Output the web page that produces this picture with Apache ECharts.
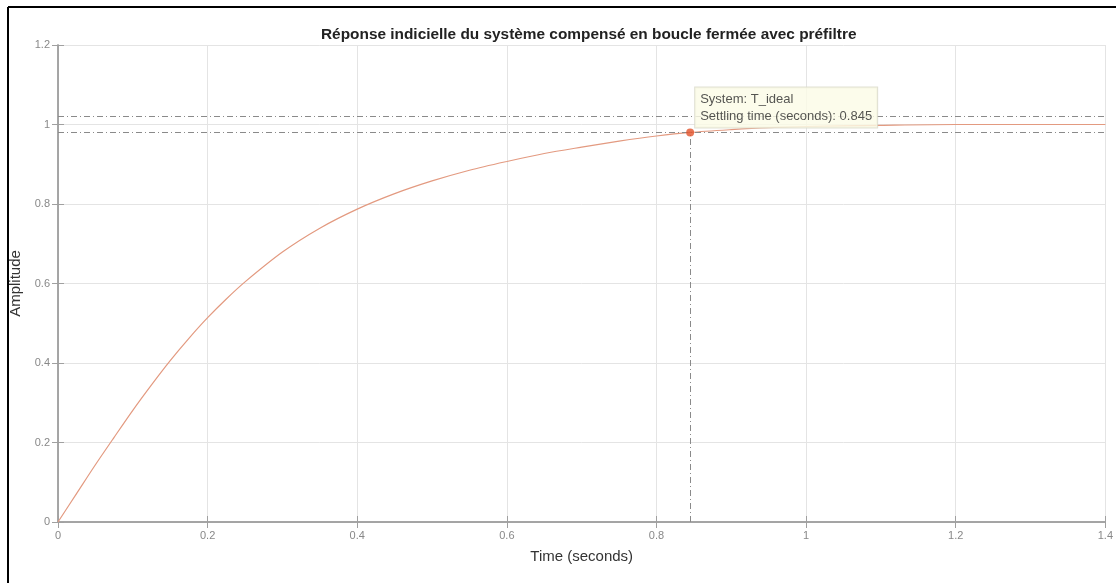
<!DOCTYPE html>
<html>
<head>
<meta charset="utf-8">
<script src="https://cdn.jsdelivr.net/npm/echarts@6/dist/echarts.min.js"></script>
<style>
html,body{margin:0;padding:0;background:#fff;}
#chart{width:1116px;height:583px;}
</style>
</head>
<body>
<div id="chart"></div>
<script>
// ---- data ----
const timeValues = [0,0.025,0.05,0.075,0.1,0.125,0.15,0.175,0.2,0.225,0.25,0.3,0.35,0.4,0.45,0.5,0.55,0.6,0.65,0.7,0.75,0.8,0.845,0.9,0.95,1.0,1.1,1.2,1.3,1.4];
const amplitudeValues = [0,0.072,0.144,0.213,0.281,0.345,0.406,0.462,0.514,0.561,0.604,0.679,0.739,0.787,0.826,0.858,0.885,0.907,0.927,0.943,0.958,0.971,0.98,0.987,0.992,0.995,0.998,1.0,1.0,1.0];
const settlingTime = 0.845;
const settlingValue = 0.98;
const settlingBand = [0.98, 1.02];
const xTicks = ['0','0.2','0.4','0.6','0.8','1','1.2','1.4'];
const yTicks = ['0','0.2','0.4','0.6','0.8','1','1.2'];
const titleText = 'Réponse indicielle du système compensé en boucle fermée avec préfiltre';
const tipLines = ['System: T_ideal', 'Settling time (seconds): 0.845'];

const chart = echarts.init(document.getElementById('chart'));
const curve = timeValues.map((t, i) => [t, amplitudeValues[i]]);
const labelFont = 'Liberation Sans, Arial, sans-serif';
const dashDot = [6, 3, 1, 3];

function axisLine() { return { show: true, lineStyle: { color: '#a0a0a0', width: 1.5 } }; }
function tick() { return { show: true, inside: true, length: 6, lineStyle: { color: '#a0a0a0' } }; }

chart.setOption({
  animation: false,
  backgroundColor: '#fff',
  title: {
    text: titleText,
    left: 316,
    top: 22,
    textStyle: { fontFamily: labelFont, fontSize: 15.4, fontWeight: 'bold', color: '#222' }
  },
  grid: { left: 58, right: 8, top: 45, bottom: 61 },
  xAxis: [
    {
      type: 'value', min: 0, max: 1.4, interval: 0.2, position: 'bottom',
      axisLine: axisLine(), axisTick: tick(),
      name: 'Time (seconds)', nameLocation: 'middle', nameGap: 27,
      nameTextStyle: { fontFamily: labelFont, fontSize: 15, color: '#333' },
      axisLabel: { fontFamily: labelFont, fontSize: 11, color: '#888', margin: 8,
        formatter: v => xTicks[Math.round(v / 0.2)] ?? '' },
      splitLine: { show: true, lineStyle: { color: '#e4e4e4', width: 1 } }
    },
    {
      type: 'value', min: 0, max: 1.4, interval: 0.2, position: 'top',
      axisLine: axisLine(), axisTick: tick(),
      axisLabel: { show: false }, splitLine: { show: false }
    }
  ],
  yAxis: [
    {
      type: 'value', min: 0, max: 1.2, interval: 0.2, position: 'left',
      axisLine: axisLine(), axisTick: tick(),
      name: 'Amplitude', nameLocation: 'middle', nameGap: 32, nameRotate: 90,
      nameTextStyle: { fontFamily: labelFont, fontSize: 15, color: '#333' },
      axisLabel: { fontFamily: labelFont, fontSize: 11, color: '#888', margin: 8,
        formatter: v => yTicks[Math.round(v / 0.2)] ?? '' },
      splitLine: { show: true, lineStyle: { color: '#e4e4e4', width: 1 } }
    },
    {
      type: 'value', min: 0, max: 1.2, interval: 0.2, position: 'right',
      axisLine: axisLine(), axisTick: tick(),
      axisLabel: { show: false }, splitLine: { show: false }
    }
  ],
  graphic: [
    { type: 'line', shape: { x1: 8, y1: 7, x2: 1116, y2: 7 }, style: { stroke: '#000', lineWidth: 2 } },
    { type: 'line', shape: { x1: 8, y1: 7, x2: 8, y2: 583 }, style: { stroke: '#000', lineWidth: 2 } }
  ],
  series: [
    {
      type: 'line',
      data: curve,
      smooth: 0.3,
      showSymbol: false,
      lineStyle: { color: '#e39a80', width: 1.2 },
      markLine: {
        symbol: 'none',
        silent: true,
        label: { show: false },
        lineStyle: { color: '#8a8a8a', type: dashDot, width: 1 },
        data: [
          { yAxis: settlingBand[0] },
          { yAxis: settlingBand[1] },
          [ { coord: [settlingTime, 0] }, { coord: [settlingTime, settlingValue] } ]
        ]
      },
      z: 3
    },
    {
      type: 'scatter',
      data: [[settlingTime, settlingValue]],
      symbolSize: 8,
      itemStyle: { color: '#e2532b' },
      z: 5,
      label: {
        show: true,
        position: [9, -41],
        formatter: tipLines.join('\n'),
        fontFamily: labelFont,
        fontSize: 13,
        lineHeight: 17,
        color: '#2a2a2a',
        backgroundColor: '#fbfbe6',
        borderColor: '#d8d8c8',
        borderWidth: 1,
        padding: [3, 5, 3, 5]
      }
    }
  ]
});
</script>
</body>
</html>
